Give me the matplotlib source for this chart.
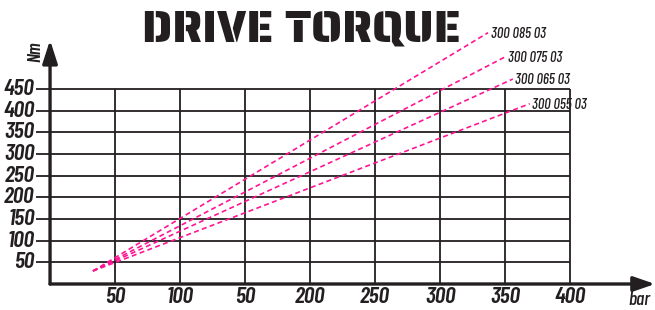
import matplotlib
matplotlib.use("Agg")
import matplotlib.pyplot as plt

plt.rcParams["font.family"] = ["Barlow Condensed", "DejaVu Sans"]

# axis ticks
pressure_ticks = [50, 100, 150, 200, 250, 300, 350, 400]
pressure_labels = ["50", "100", "50", "200", "250", "300", "350", "400"]
torque_ticks = [50, 100, 150, 200, 250, 300, 350, 400, 450]

# motor curves: (bar, Nm) start and end
motors = ["300 085 03", "300 075 03", "300 065 03", "300 055 03"]
start_bar = [33, 33, 33, 33]
start_nm = [30, 30, 30, 30]
end_bar = [337, 350, 356, 369]
end_nm = [580, 524, 473, 416]

PINK = "#ff1493"
INK = "#231f20"

fig = plt.figure(figsize=(6.55, 3.10), dpi=100)
ax = fig.add_axes([0, 0, 1, 1])
ax.set_xlim(-38.5, 465.4)
ax.set_ylim(-60.0, 655.4)
ax.axis("off")

# grid
xmax, ymax = pressure_ticks[-1], torque_ticks[-1]
for t in torque_ticks:
    ax.plot([-11, xmax], [t, t], color=INK, lw=1.3, solid_capstyle="butt", zorder=2)
for p in pressure_ticks:
    ax.plot([p, p], [0, ymax], color=INK, lw=1.3, solid_capstyle="butt", zorder=2)

# axes with arrows
ax.annotate("", xy=(465.4, 0), xytext=(0, 0),
            arrowprops=dict(arrowstyle="-|>,head_length=1.3,head_width=0.45",
                            color=INK, lw=2.4, shrinkA=0, shrinkB=0), zorder=3)
ax.annotate("", xy=(0, 563), xytext=(0, 0),
            arrowprops=dict(arrowstyle="-|>,head_length=1.4,head_width=0.45",
                            color=INK, lw=2.4, shrinkA=0, shrinkB=0), zorder=3)

# tick labels
for t in torque_ticks:
    ax.text(-12, t, str(t), ha="right", va="center", fontsize=17,
            style="italic", fontweight=600, color=INK)
for p, lab in zip(pressure_ticks, pressure_labels):
    ax.text(p, -30, lab, ha="center", va="center", fontsize=17,
            style="italic", fontweight=600, color=INK)

ax.text(453, -36, "bar", ha="center", va="center", fontsize=14,
        style="italic", fontweight=500, color=INK)
ax.text(-11, 536, "Nm", ha="center", va="center", fontsize=13,
        style="italic", fontweight=600, rotation=90, color=INK)

# motor lines
for name, x0, y0, x1, y1 in zip(motors, start_bar, start_nm, end_bar, end_nm):
    ax.plot([x0, x1], [y0, y1], color=PINK, lw=1.2, ls=(0, (3, 2)), zorder=4)
    ax.text(x1 + 2, y1 - 2, name, ha="left", va="center", fontsize=10.5,
            style="italic", fontweight=500, color=INK, zorder=5)

fig.text(0.46, 0.905, "DRIVE TORQUE", ha="center", va="center",
         fontsize=32, family=["Saira Stencil One", "DejaVu Sans"], color=INK)

fig.savefig("out.png", dpi=100)
